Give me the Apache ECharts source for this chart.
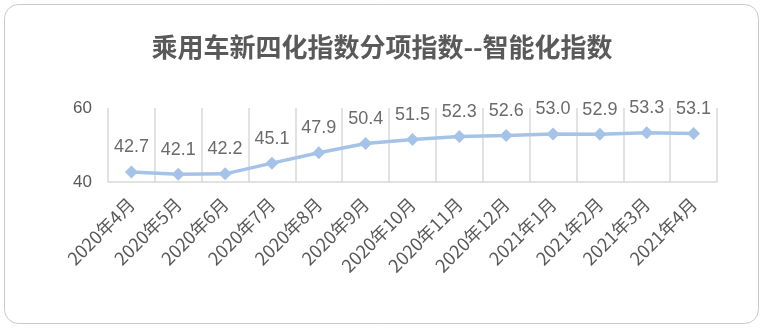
<!DOCTYPE html>
<html><head><meta charset="utf-8">
<script src="https://cdn.jsdelivr.net/npm/echarts@6/dist/echarts.min.js"></script>
<style>html,body{margin:0;padding:0;background:#fff}#c{width:764px;height:329px}</style>
</head><body><div id="c"></div>
<script>
const categories = ['2020年4月','2020年5月','2020年6月','2020年7月','2020年8月','2020年9月','2020年10月','2020年11月','2020年12月','2021年1月','2021年2月','2021年3月','2021年4月'];
const values = [42.7, 42.1, 42.2, 45.1, 47.9, 50.4, 51.5, 52.3, 52.6, 53.0, 52.9, 53.3, 53.1];
const yTicks = [40, 60];
const titleText = '乘用车新四化指数分项指数--智能化指数';

const chart = echarts.init(document.getElementById('c'));
chart.setOption({
  animation: false,
  graphic: [{
    type: 'rect', left: 4, top: 4,
    shape: { width: 754, height: 319, r: 14 },
    style: { fill: '#fff', stroke: '#c9c9c9', lineWidth: 1 }, z: -10
  }],
  title: {
    text: titleText, left: 'center', top: 29,
    textStyle: { fontFamily: 'Noto Sans CJK SC', fontSize: 26, fontWeight: 'bold', color: '#595959' }
  },
  grid: { left: 108, right: 47, top: 108, bottom: 147 },
  xAxis: {
    type: 'category', data: categories, boundaryGap: true,
    axisLine: { lineStyle: { color: '#d9d9d9', width: 1.5 } },
    axisTick: { show: false },
    splitLine: { show: true, lineStyle: { color: '#d9d9d9', width: 1.5 } },
    axisLabel: { rotate: 45, interval: 0, margin: 19, fontSize: 18, color: '#595959', fontFamily: 'Noto Sans CJK SC' }
  },
  yAxis: {
    type: 'value', min: yTicks[0], max: yTicks[1], interval: yTicks[1] - yTicks[0],
    splitLine: { show: false }, axisLine: { show: false }, axisTick: { show: false },
    axisLabel: { fontSize: 17, color: '#595959', margin: 16, fontFamily: 'Liberation Sans' }
  },
  series: [{
    type: 'line', data: values,
    symbol: 'diamond', symbolSize: 13,
    lineStyle: { color: '#a5c3e9', width: 3.5 },
    itemStyle: { color: '#a5c3e9' },
    label: { show: true, position: 'top', distance: 9, fontSize: 18, color: '#6b6b6b', fontFamily: 'Liberation Sans',
      formatter: p => p.value.toFixed(1) }
  }]
});
</script></body></html>
